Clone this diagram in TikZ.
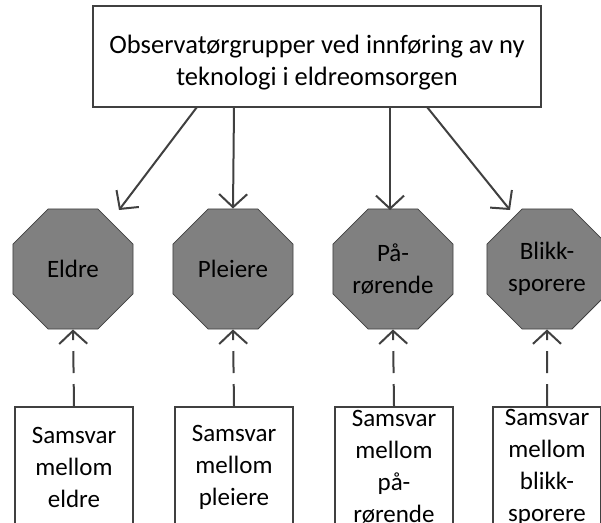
\documentclass[tikz,border=0pt]{standalone}
\usepackage{fontspec}
\setmainfont{Carlito}
\usetikzlibrary{shapes.geometric,arrows.meta}
\definecolor{edge}{HTML}{404040}
\definecolor{octfill}{HTML}{808080}
\tikzset{
  txt/.style={font=\fontsize{25}{32}\selectfont, align=center, text=black},
  topbox/.style={draw=edge, line width=2pt, fill=white, inner sep=0pt,
    minimum width=448pt, minimum height=101pt},
  toptxt/.style={txt, font=\fontsize{26.5}{32}\selectfont, inner sep=0pt},
  group/.style={txt, regular polygon, regular polygon sides=8, minimum size=130pt,
    inner sep=0pt, draw=edge, line width=0.8pt, fill=octfill},
  agree/.style={txt, draw=edge, line width=2pt, fill=white, inner sep=0pt,
    minimum width=118pt, minimum height=120pt, anchor=north},
  feed/.style={draw=edge, line width=2pt, -{Straight Barb[length=13pt,width=28pt,line width=2pt]}},
  back/.style={feed, dash pattern=on 22pt off 11pt}
}
\begin{document}
\begin{tikzpicture}[x=1pt,y=-1pt]
  \useasboundingbox (0,0) rectangle (601,522);
  \clip (0,0) rectangle (601,522);
  % observer groups heading
  \node[topbox] (top) at (317,56) {};
  \node[toptxt] (toptext) at (317,63) {Observatørgrupper ved innføring av ny\\teknologi i eldreomsorgen};
  % the four groups
  \node[group] (o1) at (73,269) {Eldre};
  \node[group] (o2) at (233,269) {Pleiere};
  \node[group] (o3) at (393,269) {På-\\rørende};
  \node[group] (o4) at (547,269) {Blikk-\\sporere};
  % agreement boxes
  \node[agree] (b1) at (74,406) {Samsvar\\mellom\\eldre};
  \node[agree] (b2) at (234,406) {Samsvar\\mellom\\pleiere};
  \node[agree] (b3) at (394,406) {Samsvar\\mellom\\på-\\rørende};
  \node[agree, minimum width=108pt] (b4) at (547,406) {Samsvar\\mellom\\blikk-\\sporere};
  % arrows from the heading
  \draw[feed] (197,107) -- (119,210);
  \draw[feed] (234,107) -- (o2.north);
  \draw[feed] (390,107) -- (390,210);
  \draw[feed] (427,107) -- (510,210);
  % dashed arrows from the agreement boxes
  \draw[back] (b1.north) -- (o1.south);
  \draw[back] (b2.north) -- (o2.south);
  \draw[back] (b3.north) -- (o3.south);
  \draw[back] (b4.north) -- (o4.south);
\end{tikzpicture}
\end{document}
